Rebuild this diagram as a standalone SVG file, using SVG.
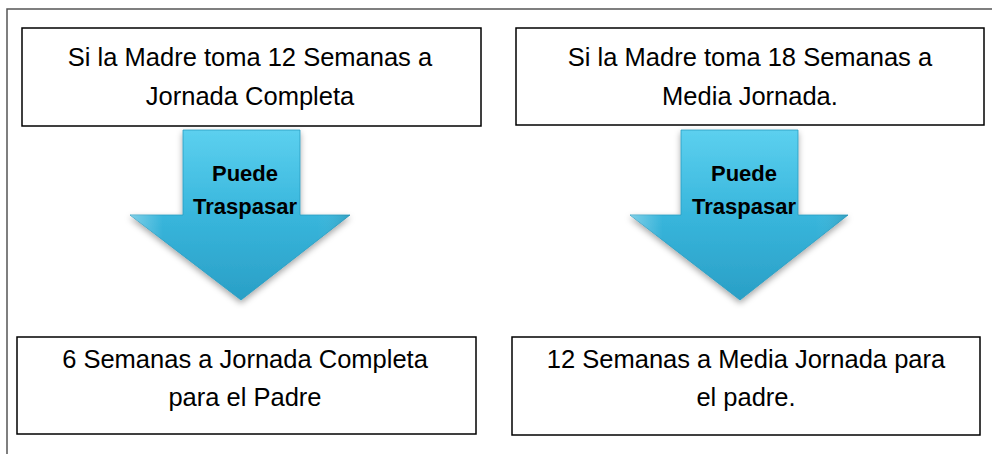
<svg xmlns="http://www.w3.org/2000/svg" width="992" height="454" viewBox="0 0 992 454">
<style>
.box{fill:#fff;stroke:#000;stroke-width:1.5}
.t{font-family:"Liberation Sans",Arial,sans-serif;font-size:25.5px;fill:#000;text-anchor:middle}
.a{font-family:"Liberation Sans",Arial,sans-serif;font-size:22px;font-weight:bold;fill:#000;text-anchor:middle}
.arr{fill:url(#g);stroke:#2a9cc0;stroke-width:0.8;filter:url(#sh)}
</style>
<defs>
<linearGradient id="g" x1="0" y1="0" x2="0" y2="1">
<stop offset="0" stop-color="#5cd0ef"/>
<stop offset="0.5" stop-color="#38b6dc"/>
<stop offset="1" stop-color="#2a9fc6"/>
</linearGradient>
<linearGradient id="hl" x1="0" y1="0" x2="1" y2="0">
<stop offset="0" stop-color="#ffffff" stop-opacity="0.35"/>
<stop offset="0.15" stop-color="#ffffff" stop-opacity="0"/>
<stop offset="0.85" stop-color="#ffffff" stop-opacity="0"/>
<stop offset="1" stop-color="#000000" stop-opacity="0.12"/>
</linearGradient>
<filter id="sh" x="-20%" y="-20%" width="140%" height="140%">
<feDropShadow dx="0" dy="3" stdDeviation="3" flood-color="#000" flood-opacity="0.35"/>
</filter>
</defs>
<rect x="7" y="9" width="990" height="450" fill="none" stroke="#555" stroke-width="1.5"/>
<g id="connectors">
<g id="arrow1">
<path class="arr" d="M183,130 H300 V215 H350 L241,300 L130,215 H183 Z"/>
<path d="M183,130 H300 V215 H350 L241,300 L130,215 H183 Z" fill="url(#hl)"/>
<text class="a" x="245" y="181">Puede</text>
<text class="a" x="245" y="214">Traspasar</text>
</g>
<g id="arrow2">
<path class="arr" d="M681,130 H798 V215 H848 L740,300 L630,215 H681 Z"/>
<path d="M681,130 H798 V215 H848 L740,300 L630,215 H681 Z" fill="url(#hl)"/>
<text class="a" x="744" y="181">Puede</text>
<text class="a" x="744" y="214">Traspasar</text>
</g>
</g>
<g id="n1">
<rect class="box" x="22" y="28" width="459" height="98"/>
<text class="t" x="250" y="66">Si la Madre toma 12 Semanas a</text>
<text class="t" x="250" y="105">Jornada Completa</text>
</g>
<g id="n2">
<rect class="box" x="516" y="28" width="468" height="97"/>
<text class="t" x="750" y="66">Si la Madre toma 18 Semanas a</text>
<text class="t" x="750" y="105">Media Jornada.</text>
</g>
<g id="n3">
<rect class="box" x="17" y="337" width="459" height="97"/>
<text class="t" x="245" y="368">6 Semanas a Jornada Completa</text>
<text class="t" x="245" y="406">para el Padre</text>
</g>
<g id="n4">
<rect class="box" x="512" y="337" width="468" height="98"/>
<text class="t" x="746" y="368">12 Semanas a Media Jornada para</text>
<text class="t" x="746" y="406">el padre.</text>
</g>
</svg>
